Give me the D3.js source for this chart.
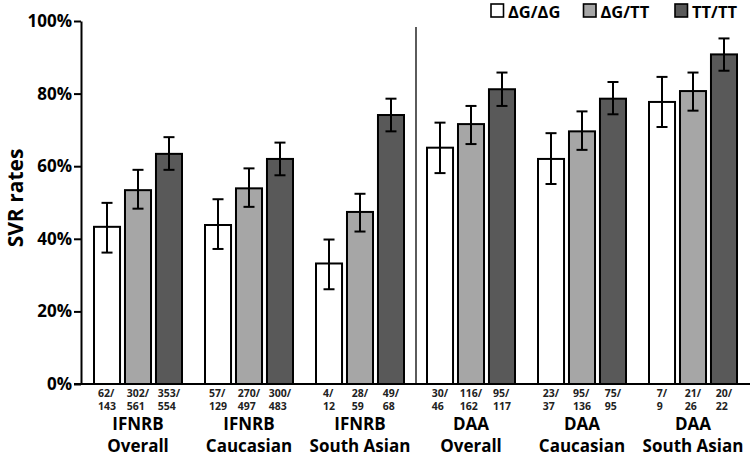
<!DOCTYPE html>
<html><head><meta charset="utf-8">
<script src="https://cdn.jsdelivr.net/npm/d3@7"></script>
<style>body{margin:0;background:#fff}svg{font-family:"Open Sans",sans-serif;font-weight:bold}</style>
</head><body><svg id="c" width="750" height="457"></svg>
<script>
const groups = ["IFNRB|Overall","IFNRB|Caucasian","IFNRB|South Asian","DAA|Overall","DAA|Caucasian","DAA|South Asian"];
const genotypes = ["ΔG/ΔG","ΔG/TT","TT/TT"];
const colors = ["#ffffff","#a6a6a6","#595959"];
const valDGDG = [43.3,43.8,33.2,65.1,62.0,77.7];
const valDGTT = [53.4,53.9,47.4,71.6,69.6,80.7];
const valTTTT = [63.4,62.0,74.1,81.2,78.6,90.8];
const errLoDGDG = [36.2,37.2,26.1,58.1,55.1,70.8];
const errHiDGDG = [49.9,50.9,39.8,72.0,69.1,84.6];
const errLoDGTT = [48.3,48.8,42.0,66.1,64.5,75.3];
const errHiDGTT = [59.0,59.4,52.4,76.6,75.1,85.8];
const errLoTTTT = [59.0,57.5,69.6,76.6,74.3,86.3];
const errHiTTTT = [68.0,66.5,78.6,85.8,83.2,95.2];
const countsDGDG = ["62/|143","57/|129","4/|12","30/|46","23/|37","7/|9"];
const countsDGTT = ["302/|561","270/|497","28/|59","116/|162","95/|136","21/|26"];
const countsTTTT = ["353/|554","300/|483","49/|68","95/|117","75/|95","20/|22"];
const yTicks = [0,20,40,60,80,100];

const vals=[valDGDG,valDGTT,valTTTT], lo=[errLoDGDG,errLoDGTT,errLoTTTT], hi=[errHiDGDG,errHiDGTT,errHiTTTT], cnt=[countsDGDG,countsDGTT,countsTTTT];
const svg=d3.select("#c");
const x0=d3.scaleBand().domain(groups).range([82.5,748.5]).paddingInner(0).paddingOuter(0);
const x1=d3.scaleBand().domain(genotypes).range([11.5,99.5]).paddingInner(0.16).paddingOuter(0);
const y=d3.scaleLinear().domain([0,100]).range([384,21]);

const ax=svg.append("g").attr("transform","translate(81,0)")
 .call(d3.axisLeft(y).tickValues(yTicks).tickFormat(d=>d+"%").tickSize(7).tickSizeOuter(0));
ax.select(".domain").attr("stroke","#000").attr("stroke-width",2);
ax.selectAll(".tick line").attr("stroke","#000").attr("stroke-width",2);
ax.selectAll(".tick text").attr("font-size",17).attr("font-weight","bold").attr("font-family","Open Sans").attr("fill","#000").attr("x",-9);

svg.append("text").attr("transform","translate(23,198) rotate(-90)").attr("text-anchor","middle")
 .attr("font-size",21).text("SVR rates");

svg.append("line").attr("x1",x0(groups[3])+0.5).attr("x2",x0(groups[3])+0.5).attr("y1",27).attr("y2",384).attr("stroke","#333").attr("stroke-width",1.6);

const data=[];
groups.forEach((g,i)=>genotypes.forEach((k,j)=>data.push({g,k,j,v:vals[j][i],lo:lo[j][i],hi:hi[j][i],c:cnt[j][i]})));
const bx=d=>x0(d.g)+x1(d.k);
const bw=x1.bandwidth();
svg.append("g").selectAll("rect").data(data).join("rect")
 .attr("x",d=>bx(d)).attr("width",bw).attr("y",d=>y(d.v)).attr("height",d=>y(0)-y(d.v))
 .attr("fill",d=>colors[d.j]).attr("stroke","#000").attr("stroke-width",2);

const eb=svg.append("g").attr("stroke","#000").attr("stroke-width",2);
data.forEach(d=>{
 const cx=bx(d)+bw/2;
 eb.append("line").attr("x1",cx).attr("x2",cx).attr("y1",y(d.hi)).attr("y2",y(d.lo));
 eb.append("line").attr("x1",cx-5.5).attr("x2",cx+5.5).attr("y1",y(d.hi)).attr("y2",y(d.hi));
 eb.append("line").attr("x1",cx-5.5).attr("x2",cx+5.5).attr("y1",y(d.lo)).attr("y2",y(d.lo));
});

svg.append("line").attr("x1",74).attr("x2",750).attr("y1",y(0)).attr("y2",y(0)).attr("stroke","#000").attr("stroke-width",2);

data.forEach(d=>{
 const cx=bx(d)+bw/2;
 const t=svg.append("text").attr("font-size",10.5).attr("fill","#222");
 const lines=d.c.split("|");
 const ts=lines.map((s,i)=>t.append("tspan").attr("y",i?410:397).text(s));
 const w=Math.max(...ts.map(s=>s.node().getComputedTextLength()));
 ts.forEach(s=>s.attr("x",cx-w/2));
});

groups.forEach(g=>{
 const cx=x0(g)+x0.bandwidth()/2;
 const [a,b]=g.split("|");
 svg.append("text").attr("x",cx).attr("y",430).attr("text-anchor","middle").attr("font-size",17).text(a);
 svg.append("text").attr("x",cx).attr("y",451.5).attr("text-anchor","middle").attr("font-size",17).text(b);
});

const lx=[491,583.5,675];
genotypes.forEach((k,j)=>{
 svg.append("rect").attr("x",lx[j]).attr("y",4).attr("width",12.5).attr("height",13).attr("fill",colors[j]).attr("stroke","#000").attr("stroke-width",1.6);
 svg.append("text").attr("x",lx[j]+17).attr("y",18).attr("font-size",16.5).text(k);
});
</script></body></html>
